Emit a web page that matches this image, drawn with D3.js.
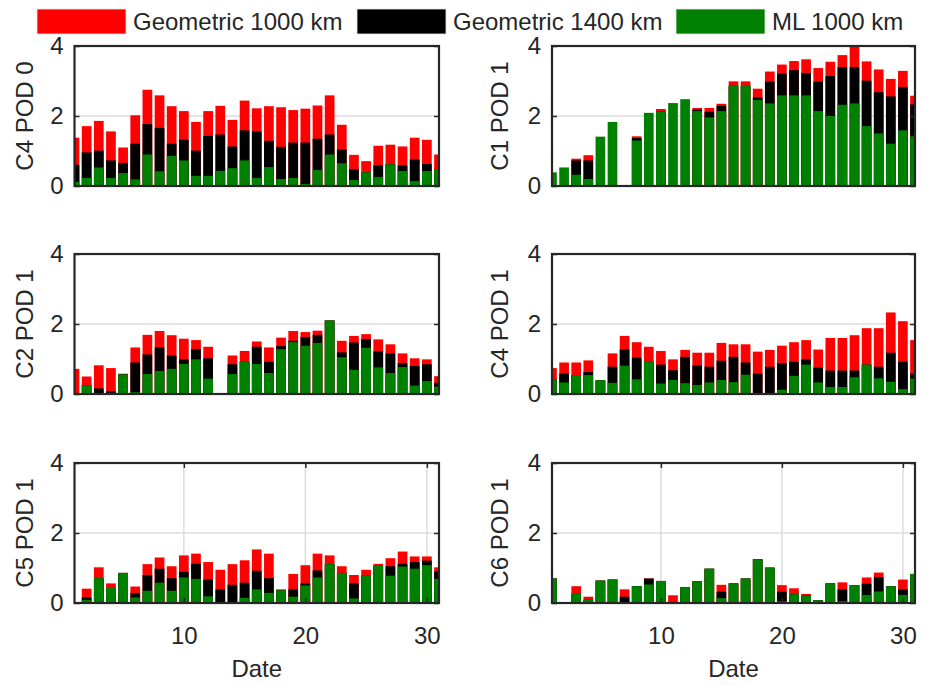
<!DOCTYPE html>
<html>
<head>
<meta charset="utf-8">
<script src="https://cdnjs.cloudflare.com/ajax/libs/d3/7.8.5/d3.min.js"></script>
<style>
  body { margin: 0; background: #fff; }
  text { font-family: Arial, "Liberation Sans", sans-serif; fill: #262626; }
</style>
</head>
<body>
<script>
// day of month on the x axis
const days = [1,2,3,4,5,6,7,8,9,10,11,12,13,14,15,16,17,18,19,20,21,22,23,24,25,26,27,28,29,30,31];
const yTicks = [0, 2, 4];
const xTicks = [10, 20, 30];
const seriesNames = ["Geometric 1000 km", "Geometric 1400 km", "ML 1000 km"];
const seriesColors = ["#ff0000", "#000000", "#008000"];

// C4 POD 0
const c4pod0Geo1000 = [1.38,1.71,1.86,1.56,1.10,2.02,2.75,2.59,2.28,2.14,1.83,2.14,2.29,1.89,2.44,2.22,2.28,2.25,2.17,2.21,2.30,2.59,1.75,0.89,0.71,1.15,1.18,1.13,1.38,1.32,0.90];
const c4pod0Geo1400 = [0.61,0.96,1.01,0.73,0.66,1.21,1.77,1.66,1.21,1.32,1.01,1.43,1.47,1.13,1.59,1.56,1.29,1.12,1.24,1.24,1.35,1.47,1.04,0.48,0.39,0.59,0.62,0.59,0.76,0.63,0.48];
const c4pod0ML      = [0.12,0.23,0.53,0.23,0.37,0.19,0.90,0.42,0.86,0.73,0.29,0.29,0.43,0.51,0.73,0.23,0.54,0.20,0.23,0.06,0.46,0.90,0.65,0.17,0.39,0.26,0.62,0.43,0.14,0.43,0.48];

// C1 POD 1
const c1pod1Geo1000 = [0,0,0.78,0.88,0,0,null,1.42,0,2.20,0,0,2.23,2.23,2.35,2.99,2.99,2.78,3.27,3.47,3.57,3.62,3.37,3.55,3.74,4.05,3.56,3.33,3.06,3.29,2.58];
const c1pod1Geo1400 = [0,0,0.73,0.73,0,0,null,1.37,0,2.13,0,0,2.18,2.12,2.29,2.86,2.86,2.53,2.98,3.21,3.31,3.23,2.98,3.14,3.40,3.40,3.01,2.68,2.56,2.83,2.33];
const c1pod1ML      = [0.39,0.53,0.32,0.20,1.41,1.83,null,1.30,2.09,2.13,2.37,2.48,2.14,1.96,2.14,2.86,2.86,2.46,2.36,2.59,2.59,2.59,2.14,2.00,2.32,2.36,1.71,1.50,1.21,1.59,1.42];

// C2 POD 1
const c2pod1Geo1000 = [0.72,0.50,0.82,0.74,0.58,1.33,1.69,1.80,1.68,1.58,1.54,1.35,null,1.10,1.23,1.50,1.33,1.61,1.80,1.77,1.81,2.10,1.52,1.66,1.71,1.56,1.42,1.16,1.02,0.99,0.51];
const c2pod1Geo1400 = [0.03,0.25,0.16,0.08,0.56,0.90,1.13,1.33,1.10,0.99,1.28,1.02,null,0.85,0.92,1.35,0.92,1.37,1.52,1.63,1.69,2.10,1.19,1.47,1.57,1.22,1.16,0.88,0.80,0.85,0.32];
const c2pod1ML      = [0.03,0.25,0.02,0,0.56,0.05,0.57,0.66,0.72,0.86,0.99,0.44,null,0.57,0.92,0.86,0.60,1.28,1.48,1.38,1.46,2.10,1.05,0.69,1.32,0.76,0.60,0.77,0.24,0.37,0.21];

// C4 POD 1
const c4pod1Geo1000 = [0.74,0.90,0.90,0.96,0.39,1.16,1.66,1.48,1.35,1.23,0.99,1.26,1.18,1.18,1.46,1.42,1.42,1.21,1.26,1.38,1.48,1.54,1.27,1.60,1.60,1.68,1.88,1.88,2.33,2.08,1.54];
const c4pod1Geo1400 = [0.41,0.58,0.54,0.63,0.39,0.78,1.27,1.04,0.94,0.84,0.68,1.06,0.81,0.78,0.95,1.06,0.90,0.58,0.78,0.88,0.92,0.99,0.75,0.67,0.67,0.67,0.84,0.78,1.18,0.92,0.58];
const c4pod1ML      = [0.41,0.33,0.54,0.54,0.39,0.32,0.81,0.42,0.94,0.30,0.40,0.31,0.26,0.33,0.40,0.34,0.55,0.03,0.03,0.12,0.52,0.84,0.33,0.20,0.20,0.48,0.84,0.45,0.35,0.14,0.44];

// C5 POD 1
const c5pod1Geo1000 = [null,0.41,1.02,0.56,0.86,0.47,1.11,1.30,1.05,1.36,1.41,1.17,0.95,1.11,1.22,1.53,1.41,0.39,0.83,1.08,1.41,1.36,1.05,0.80,0.95,1.12,1.28,1.47,1.33,1.33,1.02];
const c5pod1Geo1400 = [null,0.16,0.71,0.43,0.86,0.28,0.80,0.98,0.71,0.89,1.12,0.67,0.39,0.52,0.58,0.92,0.71,0.36,0.39,0.56,0.93,1.11,0.86,0.56,0.78,1.06,1.05,1.12,1.17,1.21,0.91];
const c5pod1ML      = [null,0.09,0.71,0.43,0.86,0.16,0.35,0.58,0.35,0.73,0.69,0.19,0,0,0.15,0.39,0.29,0.36,0.18,0.50,0.73,1.11,0.86,0.13,0.78,1.06,0.78,1.04,0.98,1.08,0.69];

// C6 POD 1
const c6pod1Geo1000 = [0.70,null,0.48,0.18,0.64,0.67,0.39,0.48,0.70,0.63,0.22,0.45,0.62,0.98,0.52,0.56,0.70,1.25,1.01,0.51,0.42,0.26,0.08,0.56,0.59,0.51,0.73,0.87,0.48,0.67,0.83];
const c6pod1Geo1400 = [0.70,null,0.26,0.09,0.64,0.67,0.18,0.48,0.70,0.63,0,0.45,0.62,0.98,0.32,0.56,0.70,1.25,1.01,0.32,0.25,0.21,0.08,0.56,0.39,0.51,0.55,0.74,0.48,0.39,0.83];
const c6pod1ML      = [0.70,null,0.26,0.09,0.64,0.67,0,0.48,0.53,0.63,0,0.45,0.62,0.98,0.14,0.56,0.70,1.25,1.01,0.05,0.25,0.21,0.08,0.56,0.05,0.51,0.23,0.33,0.48,0.23,0.83];

const panels = [
  {label: "C4 POD 0", col: 0, row: 0, series: [c4pod0Geo1000, c4pod0Geo1400, c4pod0ML]},
  {label: "C1 POD 1", col: 1, row: 0, series: [c1pod1Geo1000, c1pod1Geo1400, c1pod1ML]},
  {label: "C2 POD 1", col: 0, row: 1, series: [c2pod1Geo1000, c2pod1Geo1400, c2pod1ML]},
  {label: "C4 POD 1", col: 1, row: 1, series: [c4pod1Geo1000, c4pod1Geo1400, c4pod1ML]},
  {label: "C5 POD 1", col: 0, row: 2, series: [c5pod1Geo1000, c5pod1Geo1400, c5pod1ML]},
  {label: "C6 POD 1", col: 1, row: 2, series: [c6pod1Geo1000, c6pod1Geo1400, c6pod1ML]}
];

const W = 928, H = 686;
const colX = [[74.5, 439], [552, 915]];
const rowY = [[46, 186], [254, 394], [463, 603]];
const labelX = [33, 508];

const svg = d3.select("body").append("svg")
  .attr("width", W).attr("height", H);

// legend
const legendX = [37, 357, 676];
const legend = svg.append("g");
seriesNames.forEach(function(name, i) {
  legend.append("rect")
    .attr("x", legendX[i]).attr("y", 9)
    .attr("width", 89).attr("height", 25)
    .attr("fill", seriesColors[i])
    .attr("stroke", "#e6e6e6").attr("stroke-width", 0.8);
  legend.append("text")
    .attr("x", legendX[i] + 96).attr("y", 30)
    .attr("font-size", 24)
    .text(name);
});

panels.forEach(function(p, pi) {
  const [x0, x1] = colX[p.col];
  const [y0, y1] = rowY[p.row];
  const bottomRow = p.row === 2;

  const x = d3.scaleLinear().domain([1, 31]).range([x0, x1]);
  const y = d3.scaleLinear().domain([0, 4]).range([y1, y0]);
  const bw = 0.8 * (x(2) - x(1));

  const g = svg.append("g");

  g.append("clipPath").attr("id", "clip" + pi)
    .append("rect")
    .attr("x", x0).attr("y", y0)
    .attr("width", x1 - x0).attr("height", y1 - y0);

  // grid
  const grid = g.append("g").attr("stroke", "#dcdcdc").attr("stroke-width", 1.5);
  grid.selectAll("line.h").data([2]).enter().append("line")
    .attr("x1", x0).attr("x2", x1)
    .attr("y1", d => y(d)).attr("y2", d => y(d));
  if (bottomRow) {
    grid.selectAll("line.v").data(xTicks).enter().append("line")
      .attr("y1", y0).attr("y2", y1)
      .attr("x1", d => x(d)).attr("x2", d => x(d));
  }

  // overlapping bars: red behind, then black, then green in front
  const bars = g.append("g").attr("clip-path", "url(#clip" + pi + ")");
  p.series.forEach(function(vals, si) {
    bars.append("g").attr("fill", seriesColors[si])
      .selectAll("rect")
      .data(days.map((d, i) => ({day: d, v: vals[i]})).filter(d => d.v))
      .enter().append("rect")
      .attr("x", d => x(d.day) - bw / 2)
      .attr("width", bw)
      .attr("y", d => y(d.v))
      .attr("height", d => y(0) - y(d.v));
  });

  // ticks (inward, on all sides of the box)
  const axL = g.append("g").attr("transform", "translate(" + x0 + ",0)")
    .call(d3.axisLeft(y).tickValues(yTicks).tickSize(-5).tickPadding(11).tickFormat(d3.format("d")));
  const axR = g.append("g").attr("transform", "translate(" + x1 + ",0)")
    .call(d3.axisRight(y).tickValues(yTicks).tickSize(-5).tickFormat(""));
  [axL, axR].forEach(a => {
    a.select(".domain").remove();
    a.selectAll("line").attr("stroke", "#262626").attr("stroke-width", 1.5);
  });
  axL.selectAll("text").attr("font-size", 24).attr("fill", "#262626")
    .style("font-family", "Arial, 'Liberation Sans', sans-serif");

  if (bottomRow) {
    const axB = g.append("g").attr("transform", "translate(0," + y1 + ")")
      .call(d3.axisBottom(x).tickValues(xTicks).tickSize(-5).tickPadding(24));
    const axT = g.append("g").attr("transform", "translate(0," + y0 + ")")
      .call(d3.axisTop(x).tickValues(xTicks).tickSize(-5).tickFormat(""));
    [axB, axT].forEach(a => {
      a.select(".domain").remove();
      a.selectAll("line").attr("stroke", "#262626").attr("stroke-width", 1.5);
    });
    axB.selectAll("text").attr("font-size", 24).attr("fill", "#262626")
      .style("font-family", "Arial, 'Liberation Sans', sans-serif");

    g.append("text")
      .attr("x", (x0 + x1) / 2).attr("y", 677)
      .attr("text-anchor", "middle")
      .attr("font-size", 24)
      .text("Date");
  }

  // box
  g.append("rect")
    .attr("x", x0).attr("y", y0)
    .attr("width", x1 - x0).attr("height", y1 - y0)
    .attr("fill", "none")
    .attr("stroke", "#262626").attr("stroke-width", 2.2);

  // y label
  g.append("text")
    .attr("transform", "translate(" + labelX[p.col] + "," + ((y0 + y1) / 2) + ") rotate(-90)")
    .attr("text-anchor", "middle")
    .attr("font-size", 24)
    .text(p.label);
});
</script>
</body>
</html>
